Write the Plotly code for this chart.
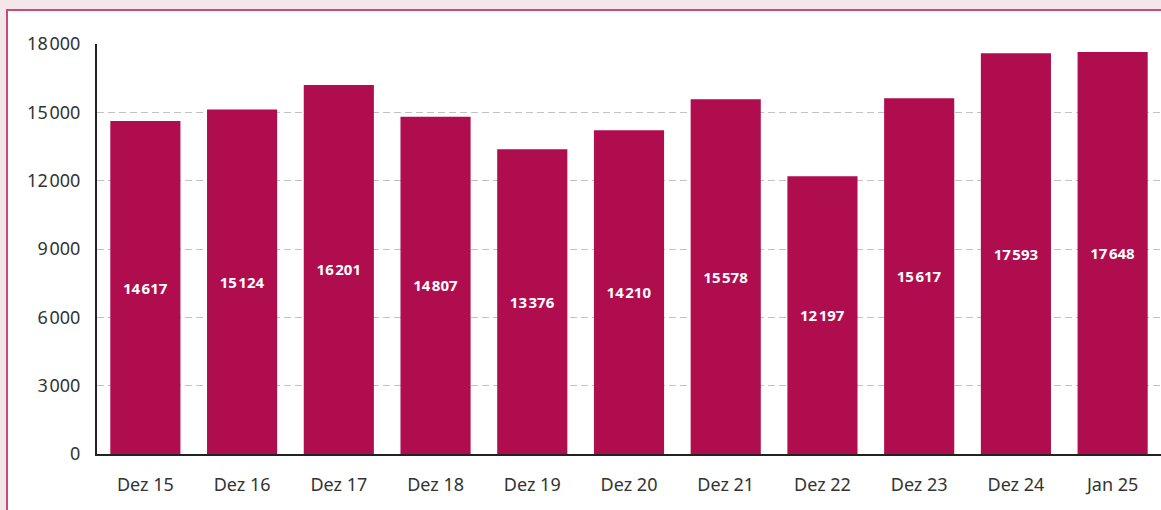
import plotly.graph_objects as go

categories = ["Dez 15", "Dez 16", "Dez 17", "Dez 18", "Dez 19", "Dez 20",
              "Dez 21", "Dez 22", "Dez 23", "Dez 24", "Jan 25"]
values = [14617, 15124, 16201, 14807, 13376, 14210, 15578, 12197, 15617, 17593, 17648]
y_ticks = [0, 3000, 6000, 9000, 12000, 15000, 18000]

def fmt(v):
    s = f"{v:,}"
    return s.replace(",", "\u200a")

fig = go.Figure()
fig.add_trace(go.Bar(
    x=categories, y=values,
    marker=dict(color="#b00d4f", line=dict(width=0)),
    text=[fmt(v) for v in values],
    textposition="inside", insidetextanchor="middle",
    textfont=dict(color="white", size=15, family="Noto Sans", weight="bold"),
    constraintext="none",
    hoverinfo="skip",
))

W, H = 1161, 510
ml, mr, mt, mb = 97, 0, 44, 56
pw, ph = W - ml - mr, H - mt - mb
fig.add_shape(type="rect", xref="paper", yref="paper",
              x0=(7 - ml) / pw, x1=1.05, y0=-0.3, y1=(H - mb - 10) / ph,
              fillcolor="white", line=dict(color="#c94a7c", width=2), layer="below")

fig.update_layout(
    width=W, height=H,
    margin=dict(l=ml, r=mr, t=mt, b=mb, autoexpand=False),
    paper_bgcolor="#f4e7ea", plot_bgcolor="rgba(0,0,0,0)",
    bargap=0.275, showlegend=False,
    font=dict(family="Noto Sans", size=18, color="#333333"),
    xaxis=dict(showline=True, linecolor="#222222", linewidth=2, automargin=False,
               ticks="outside", ticklen=13, tickcolor="rgba(0,0,0,0)",
               tickfont=dict(size=18, color="#333333"), showgrid=False),
    yaxis=dict(range=[0, 18000], tickvals=y_ticks, ticktext=[fmt(v) for v in y_ticks],
               showline=True, linecolor="#222222", linewidth=2, automargin=False,
               showgrid=True, gridcolor="#c2c2c2", griddash="7px,4px", gridwidth=1,
               zeroline=False,
               ticks="outside", ticklen=11, tickcolor="rgba(0,0,0,0)",
               tickfont=dict(size=18, color="#333333")),
)
fig.write_html("out.html", config={"displayModeBar": False},
               post_script="document.body.style.margin='0';document.body.style.overflow='hidden';document.body.style.background='#f4e7ea';")
